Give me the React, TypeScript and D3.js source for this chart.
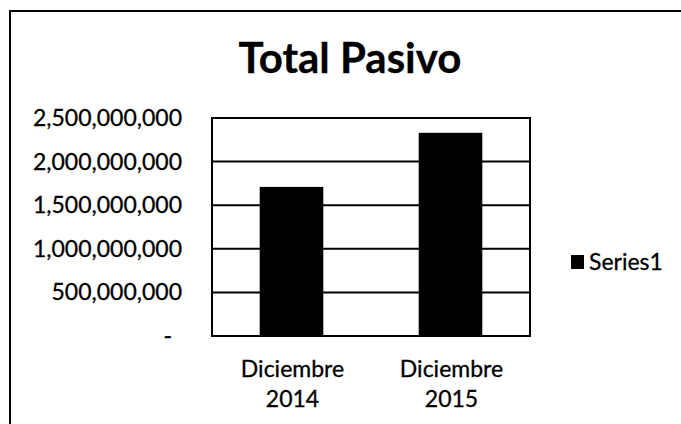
import React from "react";
import * as d3 from "d3";

const categories: string[][] = [["Diciembre", "2014"], ["Diciembre", "2015"]];
const values: number[] = [1710000000, 2330000000];
const yTicks: number[] = [0, 500000000, 1000000000, 1500000000, 2000000000, 2500000000];
const seriesName = "Series1";
const title = "Total Pasivo";

const W = 681;
const H = 424;
const plot = { left: 212, right: 530, top: 118, bottom: 336 };
const FONT = "Lato, 'Open Sans', 'DejaVu Sans', sans-serif";
const TXT = { fill: "#000", stroke: "#000", strokeWidth: 0.3 };

export default function App() {
  const x = d3
    .scaleBand<number>()
    .domain(categories.map((_, i) => i))
    .range([plot.left, plot.right])
    .paddingInner(0.6)
    .paddingOuter(0.3);
  const y = d3.scaleLinear().domain([0, 2500000000]).range([plot.bottom, plot.top]);
  const fmt = d3.format(",");

  return (
    <svg
      width={W}
      height={H}
      style={{ position: "absolute", left: 0, top: 0, background: "#fff" }}
      fontFamily={FONT}
    >
      <rect x={0} y={0} width={W} height={H} fill="#fff" />
      {/* outer chart frame (top and left visible) */}
      <line x1={10} y1={11} x2={W} y2={11} stroke="#000" strokeWidth={2} />
      <line x1={10} y1={10} x2={10} y2={H} stroke="#000" strokeWidth={2} />

      {/* title */}
      <text x={350} y={73} textAnchor="middle" fontSize={42} fontWeight="bold" {...TXT}>
        {title}
      </text>

      {/* gridlines */}
      {yTicks.map((t) => (
        <line
          key={"g" + t}
          x1={plot.left}
          x2={plot.right}
          y1={y(t)}
          y2={y(t)}
          stroke="#000"
          strokeWidth={2}
        />
      ))}

      {/* bars */}
      {values.map((v, i) => (
        <rect
          key={"b" + i}
          x={x(i)}
          y={y(v)}
          width={x.bandwidth()}
          height={y(0) - y(v)}
          fill="#000"
        />
      ))}

      {/* plot area border */}
      <rect
        x={plot.left}
        y={plot.top}
        width={plot.right - plot.left}
        height={plot.bottom - plot.top}
        fill="none"
        stroke="#000"
        strokeWidth={2}
      />

      {/* y tick labels */}
      {yTicks.map((t) => (
        <text
          key={"t" + t}
          x={t === 0 ? 172 : 182}
          y={y(t) + 8}
          textAnchor="end"
          fontSize={23}
          {...TXT}
        >
          {t === 0 ? "-" : fmt(t)}
        </text>
      ))}

      {/* x labels */}
      {categories.map((c, i) => (
        <g key={"x" + i}>
          {c.map((line, j) => (
            <text
              key={j}
              x={(x(i) as number) + x.bandwidth() / 2 + 1}
              y={377 + j * 30}
              textAnchor="middle"
              fontSize={23}
              {...TXT}
            >
              {line}
            </text>
          ))}
        </g>
      ))}

      {/* legend */}
      <rect x={571} y={255} width={13} height={14} fill="#000" />
      <text x={589} y={270} fontSize={23} {...TXT}>
        {seriesName}
      </text>
    </svg>
  );
}
